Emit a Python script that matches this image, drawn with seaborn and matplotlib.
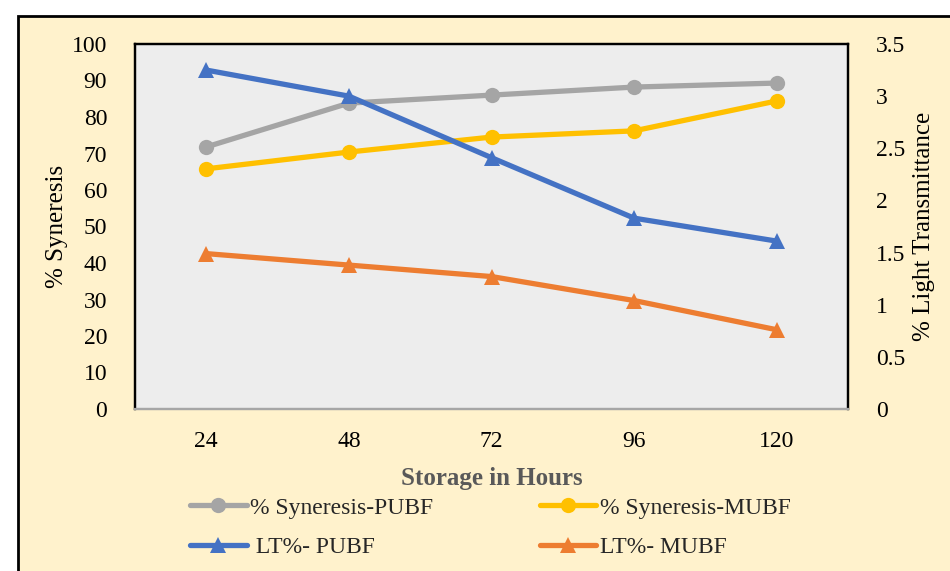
import matplotlib
matplotlib.use("Agg")
import matplotlib.pyplot as plt
from matplotlib.patches import Rectangle
from matplotlib.lines import Line2D
import seaborn as sns
import pandas as pd

# Storage time points (hours)
hours = ["24", "48", "72", "96", "120"]

# % Syneresis (left axis)
syneresis_pubf = [71.8, 83.8, 86.0, 88.2, 89.3]
syneresis_mubf = [65.8, 70.4, 74.5, 76.2, 84.4]

# % Light transmittance (right axis)
lt_pubf = [3.25, 3.00, 2.41, 1.83, 1.61]
lt_mubf = [1.49, 1.38, 1.27, 1.04, 0.76]

sns.set_theme(style="white")
plt.rcParams["font.family"] = ["Liberation Serif", "DejaVu Serif"]

df = pd.DataFrame({
    "hours": hours,
    "syn_pubf": syneresis_pubf,
    "syn_mubf": syneresis_mubf,
    "lt_pubf": lt_pubf,
    "lt_mubf": lt_mubf,
})

fig = plt.figure(figsize=(9.5, 5.71), dpi=100, facecolor="white")
# Chart area panel with black border, kept behind the axes
panel = Rectangle((18 / 950, -0.05), 1.0, 1 - 16 / 571 + 0.05,
                  transform=fig.transFigure, facecolor="#FFF2CC",
                  edgecolor="black", linewidth=2, zorder=-10)
fig.add_artist(panel)

ax = fig.add_axes([135 / 950, 1 - 409 / 571, (848 - 135) / 950, (409 - 44) / 571])
ax.set_facecolor("#EDEDED")
ax2 = ax.twinx()

lw = 3.8
ms = 11
styles = {
    "syn_pubf": dict(color="#A5A5A5", marker="o", label="% Syneresis-PUBF"),
    "syn_mubf": dict(color="#FFC000", marker="o", label="% Syneresis-MUBF"),
    "lt_pubf": dict(color="#4472C4", marker="^", label=" LT%- PUBF"),
    "lt_mubf": dict(color="#ED7D31", marker="^", label="LT%- MUBF"),
}

for col, target in [("syn_pubf", ax), ("syn_mubf", ax), ("lt_pubf", ax2), ("lt_mubf", ax2)]:
    st = styles[col]
    sns.lineplot(data=df, x="hours", y=col, ax=target, color=st["color"],
                 marker=st["marker"], markersize=ms, markeredgewidth=0,
                 linewidth=lw, legend=False, sort=False)

ax.set_xlim(-0.5, 4.5)
ax.set_ylim(0, 100)
ax.set_yticks(range(0, 101, 10))
ax2.set_ylim(0, 3.5)
ax2.set_yticks([0, 0.5, 1, 1.5, 2, 2.5, 3, 3.5])
ax2.set_yticklabels(["0", "0.5", "1", "1.5", "2", "2.5", "3", "3.5"])

for a in (ax, ax2):
    a.tick_params(axis="both", length=0, labelsize=17, colors="black")
ax.tick_params(axis="y", pad=20)
ax2.tick_params(axis="y", pad=20)
ax.tick_params(axis="x", pad=16)

for a in (ax, ax2):
    for name in ("left", "right", "top"):
        a.spines[name].set_color("black")
        a.spines[name].set_linewidth(1.6)
    a.spines["bottom"].set_color("#A6A6A6")
    a.spines["bottom"].set_linewidth(1.6)

ax.set_xlabel("Storage in Hours", fontsize=18, fontweight="bold", color="#595959", labelpad=11)
ax.set_ylabel("% Syneresis", fontsize=18, color="black", labelpad=3)
ax2.set_ylabel("% Light Transmittance", fontsize=18, color="black", labelpad=6)

handles = []
for key in ["syn_pubf", "lt_pubf", "syn_mubf", "lt_mubf"]:
    st = styles[key]
    handles.append(Line2D([], [], color=st["color"], marker=st["marker"],
                          markersize=ms, markeredgewidth=0, linewidth=lw,
                          label=st["label"]))
fig.legend(handles=handles, loc="upper left", bbox_to_anchor=(190 / 950, 1 - 497 / 571),
           ncol=2, frameon=False, fontsize=17, handlelength=2.4,
           handletextpad=0.15, columnspacing=4.5, labelspacing=0.75,
           borderpad=0, borderaxespad=0)

fig.savefig("out.png", dpi=100, facecolor="white")
